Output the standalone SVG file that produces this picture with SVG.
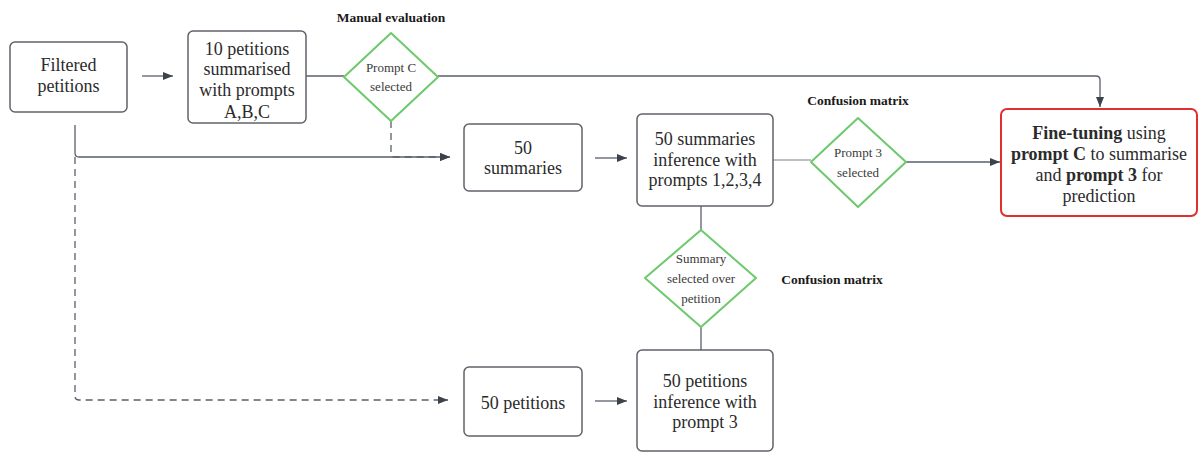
<svg xmlns="http://www.w3.org/2000/svg" width="1198" height="452" viewBox="0 0 1198 452">
<style>
.box{fill:#fff;stroke:#5f6368;stroke-width:1.5}
.red{fill:#fff;stroke:#e0302e;stroke-width:2}
.dia{fill:#fff;stroke:#6cc96c;stroke-width:2}
.t{font-family:"Liberation Serif",serif;font-size:18px;fill:#2b2b2b;text-anchor:middle}
.d{font-family:"Liberation Serif",serif;font-size:13px;fill:#3a3a3a;text-anchor:middle}
.lab{font-family:"Liberation Serif",serif;font-size:13.5px;font-weight:bold;fill:#1a1a1a;text-anchor:middle}
.c{fill:none;stroke:#5a5f6b;stroke-width:1.3}
.cl{fill:none;stroke:#a8a8a8;stroke-width:1.3}
.dash{stroke-dasharray:7 5}
</style>
<defs>
<marker id="ah" viewBox="0 0 10 10" refX="10" refY="5" markerWidth="10" markerHeight="10" markerUnits="userSpaceOnUse" orient="auto">
<path d="M0,1 L10,5 L0,9 Z" fill="#3c424c"/>
</marker>
</defs>
<g id="connectors">
<path class="c" d="M142,76 H173" marker-end="url(#ah)"/>
<path class="c" d="M306,76 H344"/>
<path class="c" d="M438,76 H1096 Q1100,76 1100,80 V107" marker-end="url(#ah)"/>
<path class="c dash" d="M391,121 V153 Q391,157 395,157 H450" marker-end="url(#ah)"/>
<path class="c" d="M75,125 V153 Q75,157 79,157 H450" marker-end="url(#ah)"/>
<path class="c dash" d="M75,157 V396 Q75,400 79,400 H448" marker-end="url(#ah)"/>
<path class="c" d="M595,158 H627" marker-end="url(#ah)"/>
<path class="cl" d="M773,160 H811"/>
<path class="c" d="M906,162 H1000" marker-end="url(#ah)"/>
<path class="c" d="M701,206 V230"/>
<path class="c" d="M701,327 V350"/>
<path class="c" d="M595,401 H627" marker-end="url(#ah)"/>
</g>
<g id="filtered">
<rect class="box" x="10" y="42" width="117" height="70" rx="5"/>
<text class="t" x="68.5" y="71">Filtered</text>
<text class="t" x="68.5" y="92">petitions</text>
</g>
<g id="ten">
<rect class="box" x="188" y="31" width="118" height="92" rx="5"/>
<text class="t" x="247" y="55">10 petitions</text>
<text class="t" x="247" y="75">summarised</text>
<text class="t" x="247" y="96">with prompts</text>
<text class="t" x="247" y="118">A,B,C</text>
</g>
<g id="promptC">
<polygon class="dia" points="391,33 438,77 391,121 344,77" stroke-linejoin="round"/>
<text class="d" x="391" y="72">Prompt C</text>
<text class="d" x="391" y="91">selected</text>
<text class="lab" x="391" y="22">Manual evaluation</text>
</g>
<g id="sum50">
<rect class="box" x="464" y="124" width="118" height="67" rx="5"/>
<text class="t" x="523" y="154">50</text>
<text class="t" x="523" y="174">summaries</text>
</g>
<g id="suminf">
<rect class="box" x="637" y="114" width="136" height="92" rx="5"/>
<text class="t" x="705" y="145">50 summaries</text>
<text class="t" x="705" y="166">inference with</text>
<text class="t" x="705" y="186">prompts 1,2,3,4</text>
</g>
<g id="prompt3">
<polygon class="dia" points="858,118 906,162 858,207 811,162" stroke-linejoin="round"/>
<text class="d" x="858" y="157">Prompt 3</text>
<text class="d" x="858" y="177">selected</text>
<text class="lab" x="858" y="105">Confusion matrix</text>
</g>
<g id="finetune">
<rect class="red" x="1001" y="109" width="196" height="107" rx="6"/>
<text class="t" x="1099" y="139"><tspan font-weight="bold">Fine-tuning</tspan> using</text>
<text class="t" x="1099" y="160"><tspan font-weight="bold">prompt C</tspan> to summarise</text>
<text class="t" x="1099" y="181">and <tspan font-weight="bold">prompt 3</tspan> for</text>
<text class="t" x="1099" y="202">prediction</text>
</g>
<g id="summarysel">
<polygon class="dia" points="701,230 756,278 701,327 645,278" stroke-linejoin="round"/>
<text class="d" x="701" y="263">Summary</text>
<text class="d" x="701" y="283">selected over</text>
<text class="d" x="701" y="303">petition</text>
<text class="lab" x="832" y="284">Confusion matrix</text>
</g>
<g id="pet50">
<rect class="box" x="464" y="367" width="118" height="69" rx="5"/>
<text class="t" x="523" y="409">50 petitions</text>
</g>
<g id="petinf">
<rect class="box" x="637" y="350" width="136" height="101" rx="5"/>
<text class="t" x="705" y="387">50 petitions</text>
<text class="t" x="705" y="408">inference with</text>
<text class="t" x="705" y="428">prompt 3</text>
</g>
</svg>
